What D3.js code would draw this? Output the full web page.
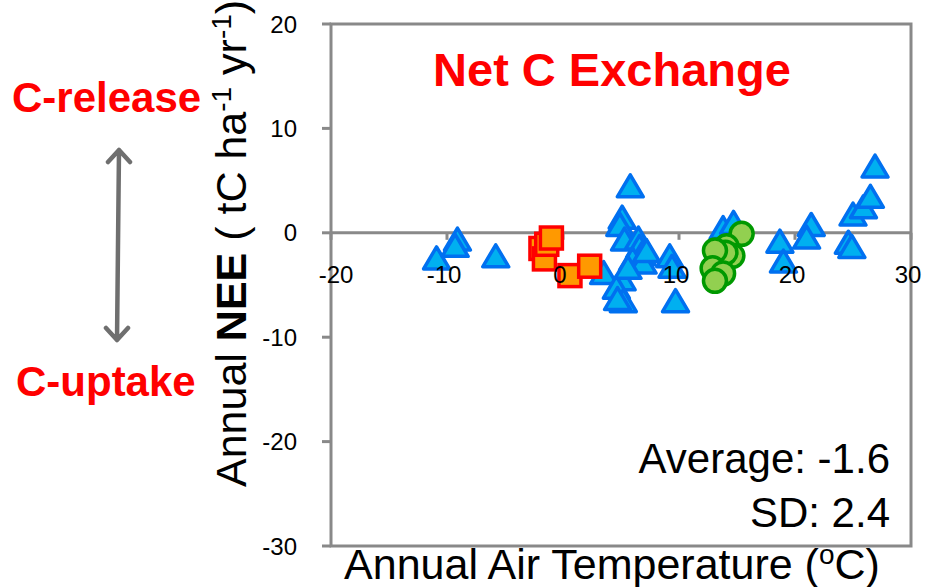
<!DOCTYPE html>
<html lang="en">
<head>
<meta charset="UTF-8">
<title>Net C Exchange</title>
<script src="https://d3js.org/d3.v7.min.js"></script>
<style>
  body { margin: 0; background: #fff; }
  svg { font-family: "Liberation Sans", Arial, sans-serif; }
</style>
</head>
<body>
<script>
// data: [air temperature, NEE]
const triangles = [
  [-10.9, -2.5], [-9.1, -0.7], [-9.3, -1.3], [-5.8, -2.3], [3.5, -3.9],
  [5.8, 4.4], [5.1, 1.4], [4.9, 0.7], [5.3, -0.7], [6.5, -0.6],
  [6.6, -1.4], [6.8, -2.1], [6.0, -2.6], [6.9, -2.9], [5.1, -4.5],
  [4.6, -5.3], [5.2, -6.6], [4.7, -6.4], [9.2, -2.3], [9.4, -3.3],
  [9.7, -6.6], [13.8, 0.4], [14.7, 0.9], [18.7, -0.9], [19.0, -2.8],
  [21.4, 0.7], [21.0, -0.5], [24.6, -1.0], [24.9, -1.4], [25.0, 1.7],
  [25.9, 2.4], [26.5, 3.4], [26.9, 6.3], [7.2, -1.8], [5.6, -3.4]
];
const squares = [
  [-1.9, -1.5], [-1.6, -2.5], [-1.4, -1.1], [-1.0, -0.5], [0.6, -4.1], [2.3, -3.2]
];
const circles = [
  [15.4, -0.1], [14.1, -1.3], [14.6, -2.2], [14.0, -1.9],
  [13.1, -1.7], [12.9, -3.4], [13.8, -3.9], [13.1, -4.6]
];
const xTicks = [-20, -10, 0, 10, 20, 30];
const yTicks = [-30, -20, -10, 0, 10, 20];

const W = 929, H = 587;
const svg = d3.select('body').append('svg').attr('width', W).attr('height', H);

const x = d3.scaleLinear().domain([-20, 30]).range([331, 911]);
const y = d3.scaleLinear().domain([-30, 20]).range([546, 24]);
const grey = '#898989';

// plot frame
svg.append('rect')
  .attr('x', x(-20)).attr('y', y(20))
  .attr('width', x(30) - x(-20)).attr('height', y(-30) - y(20))
  .attr('fill', 'none').attr('stroke', grey).attr('stroke-width', 3);

// y ticks
svg.selectAll('.ytick').data(yTicks).enter().append('line')
  .attr('x1', x(-20) - 9).attr('x2', x(-20))
  .attr('y1', d => y(d)).attr('y2', d => y(d))
  .attr('stroke', grey).attr('stroke-width', 3);

// x axis at y = 0
svg.append('line')
  .attr('x1', x(-20)).attr('x2', x(30)).attr('y1', y(0)).attr('y2', y(0))
  .attr('stroke', grey).attr('stroke-width', 3);
svg.selectAll('.xtick').data(xTicks).enter().append('line')
  .attr('x1', d => x(d)).attr('x2', d => x(d))
  .attr('y1', y(0)).attr('y2', y(0) + 7)
  .attr('stroke', grey).attr('stroke-width', 3);

// markers
const tri = 'M0,-12L13,10L-13,10Z';
svg.append('g').selectAll('path').data(triangles).enter().append('path')
  .attr('d', tri)
  .attr('transform', d => `translate(${x(d[0])},${y(d[1])})`)
  .attr('fill', '#00B0F0').attr('stroke', '#0070F0').attr('stroke-width', 3.5)
  .attr('stroke-linejoin', 'round');

svg.append('g').selectAll('rect').data(squares).enter().append('rect')
  .attr('x', d => x(d[0]) - 11).attr('y', d => y(d[1]) - 11)
  .attr('width', 22).attr('height', 22)
  .attr('fill', '#FF9900').attr('stroke', '#FF0000').attr('stroke-width', 3.5);

svg.append('g').selectAll('circle').data(circles).enter().append('circle')
  .attr('cx', d => x(d[0])).attr('cy', d => y(d[1])).attr('r', 11.5)
  .attr('fill', '#92D050').attr('stroke', '#009900').attr('stroke-width', 3.5);

// tick labels
svg.selectAll('.xlab').data(xTicks).enter().append('text')
  .attr('x', d => x(d) - 3 + (d === -20 ? 8 : 0)).attr('y', y(0) + 50)
  .attr('text-anchor', 'middle').attr('font-size', 24)
  .text(d => d);
svg.selectAll('.ylab').data(yTicks).enter().append('text')
  .attr('x', 297).attr('y', d => y(d) + 8.5)
  .attr('text-anchor', 'end').attr('font-size', 24)
  .text(d => d);

// titles
svg.append('text').attr('x', 612).attr('y', 86).attr('text-anchor', 'middle')
  .attr('font-size', 47).attr('font-weight', 'bold').attr('fill', '#FF0000')
  .text('Net C Exchange');

const xt = svg.append('text').attr('x', 612).attr('y', 579)
  .attr('text-anchor', 'middle').attr('font-size', 43);
xt.append('tspan').text('Annual Air Temperature (');
xt.append('tspan').attr('font-size', 28).attr('dy', -15).text('o');
xt.append('tspan').attr('dy', 15).text('C)');

const yt = svg.append('text').attr('transform', 'translate(246,487) rotate(-90)')
  .attr('font-size', 43);
yt.append('tspan').text('Annual ');
yt.append('tspan').attr('font-weight', 'bold').text('NEE');
yt.append('tspan').text(' ( tC ha');
yt.append('tspan').attr('font-size', 28).attr('dy', -15).text('-1');
yt.append('tspan').attr('dy', 15).text(' yr');
yt.append('tspan').attr('font-size', 28).attr('dy', -15).text('-1');
yt.append('tspan').attr('dy', 15).text(')');

svg.append('text').attr('x', 890).attr('y', 473).attr('text-anchor', 'end')
  .attr('font-size', 42).text('Average: -1.6');
svg.append('text').attr('x', 890).attr('y', 527).attr('text-anchor', 'end')
  .attr('font-size', 42).text('SD: 2.4');

// release / uptake annotation
svg.append('text').attr('x', 12).attr('y', 112)
  .attr('font-size', 42).attr('font-weight', 'bold').attr('fill', '#FF0000')
  .text('C-release');
svg.append('text').attr('x', 16).attr('y', 396)
  .attr('font-size', 42).attr('font-weight', 'bold').attr('fill', '#FF0000')
  .text('C-uptake');

const arrow = d3.path();
arrow.moveTo(119, 150); arrow.lineTo(117, 340);
arrow.moveTo(108, 162); arrow.lineTo(119, 150); arrow.lineTo(130, 162);
arrow.moveTo(106, 328); arrow.lineTo(117, 340); arrow.lineTo(128, 328);
svg.append('path').attr('d', arrow.toString())
  .attr('fill', 'none').attr('stroke', '#6F6F6F').attr('stroke-width', 4.5)
  .attr('stroke-linecap', 'round').attr('stroke-linejoin', 'round');
</script>
</body>
</html>
